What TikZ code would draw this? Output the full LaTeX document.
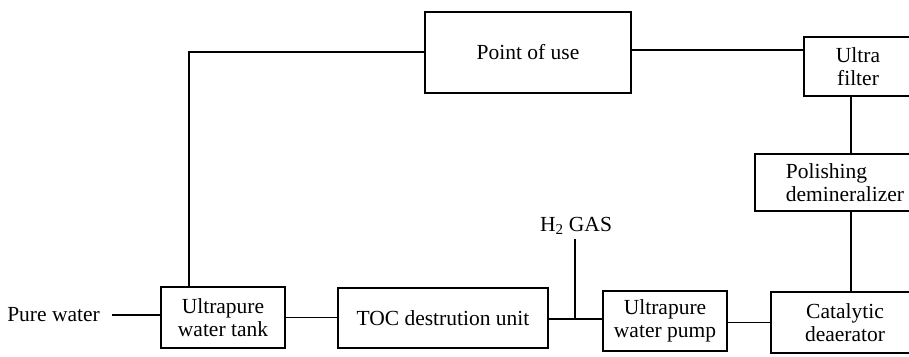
\documentclass[tikz,border=0pt]{standalone}
\usepackage{fontspec}
\setmainfont{Liberation Serif}
\begin{document}
\begin{tikzpicture}[x=1pt,y=-1pt,
  box/.style={draw,line width=1.1pt,inner sep=0pt,align=center,font=\fontsize{21.5}{23}\selectfont},
  lbl/.style={inner sep=0pt,font=\fontsize{21.5}{23}\selectfont},
  pipe/.style={line width=1.1pt}]
\useasboundingbox (0,0) rectangle (909,356);
\clip (0,0) rectangle (909,356);
\node[box,minimum width=206pt,minimum height=81pt] (pou) at (528,52.5) {Point of use};
\node[box,minimum width=108pt,minimum height=59pt] (uf) at (858,66.5) {Ultra\\filter};
\node[box,minimum width=180pt,minimum height=57pt] (pd) at (845,182.5) {};
\node[lbl,align=left] (pdt) at (845,182.5) {Polishing\\demineralizer};
\node[box,minimum width=148pt,minimum height=61pt] (cd) at (845,322.5) {Catalytic\\deaerator};
\node[box,minimum width=124pt,minimum height=60pt] (pump) at (665,321) {Ultrapure\\water pump};
\node[box,minimum width=210pt,minimum height=60pt] (toc) at (443,318) {TOC destrution unit};
\node[box,minimum width=124pt,minimum height=61pt] (tank) at (223,317.5) {Ultrapure\\water tank};
\node[lbl,anchor=east] (pw) at (100,315) {Pure water};
\node[lbl] (h2) at (576,226) {H\textsubscript{2} GAS};
\coordinate (j) at (575,319);
\coordinate (tl) at (189,52);
\coordinate (cx) at (851,0);
\draw[pipe] ([xshift=12pt]pw.east) -- (pw.east -| tank.west);
\draw[pipe] (tank.east) -- (tank.east -| toc.west);
\draw[pipe] (toc.east |- j) -- (j) -- (j -| pump.west);
\draw[pipe] (j |- h2.south) ++(0,4) -- (j);
\draw[pipe] (pump.east |- cd.west) -- (cd.west);
\draw[pipe] (cx |- cd.north) -- (cx |- pd.south);
\draw[pipe] (cx |- pd.north) -- (cx |- uf.south);
\draw[pipe] ([yshift=2.5pt]pou.east) -- ([yshift=2.5pt]pou.east -| uf.west);
\draw[pipe] (tl |- tank.north) -- (tl) -- (tl -| pou.west);
\end{tikzpicture}
\end{document}
